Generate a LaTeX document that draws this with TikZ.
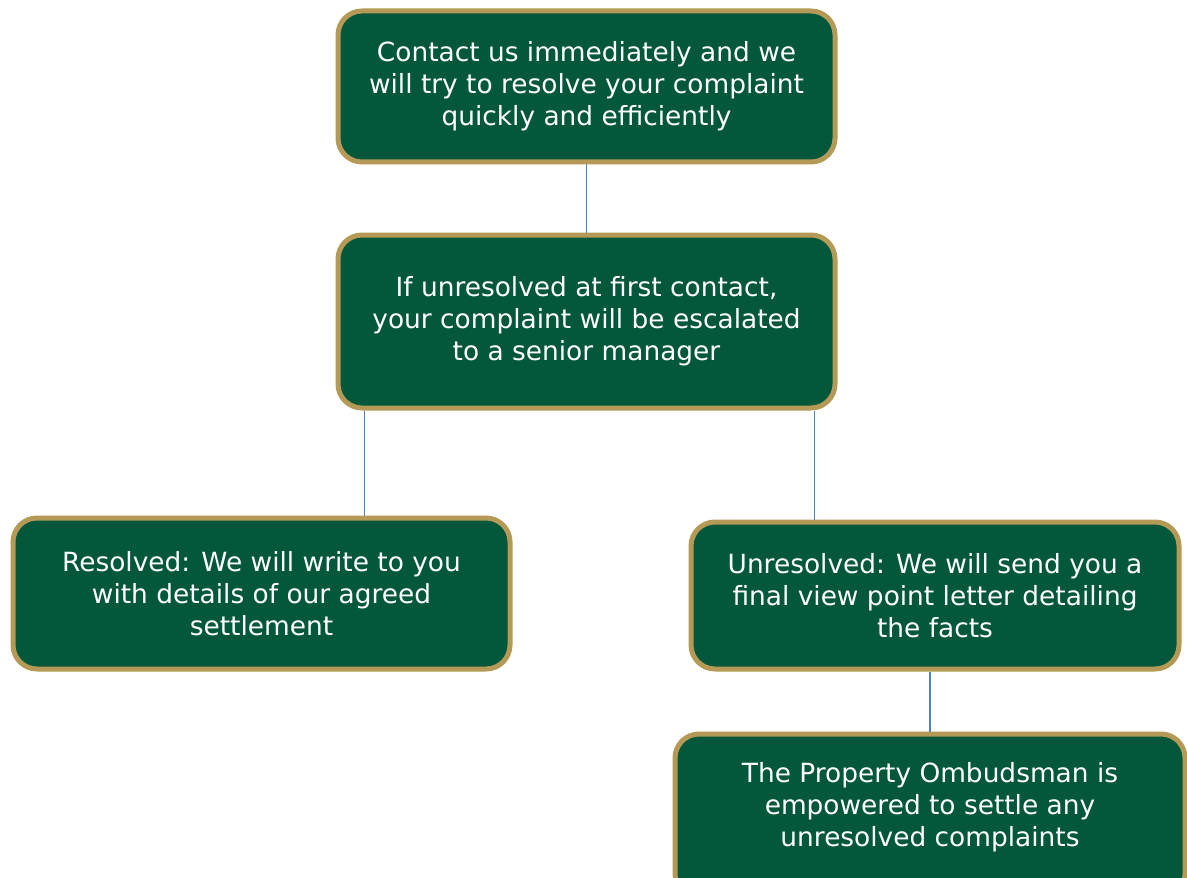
\documentclass[tikz,border=0pt]{standalone}
\usepackage{fontspec}
\setmainfont{DejaVu Sans}
\definecolor{boxgreen}{HTML}{03573A}
\definecolor{boxgold}{HTML}{B49A56}
\definecolor{linkblue}{HTML}{4F81BD}
\begin{document}
\begin{tikzpicture}[x=0.5pt, y=-0.5pt,
  stagebox/.style={draw=boxgold, line width=2.5pt, fill=boxgreen, rounded corners=12pt,
    text=white, align=center, font=\fontsize{13.2}{16}\selectfont, inner sep=0pt},
  link/.style={draw=linkblue, line width=0.9pt}]
\useasboundingbox (0,0) rectangle (1187,877);
\clip (0,0) rectangle (1187,877);

% Complaint stages
\node[stagebox, minimum width=248.5pt, minimum height=75.5pt] (contact) at (586.5,86.5)
  {Contact us immediately and we\\will try to resolve your complaint\\quickly and efficiently};
\node[stagebox, minimum width=248.5pt, minimum height=86.5pt] (escalate) at (586.5,321.5)
  {If unresolved at first contact,\\your complaint will be escalated\\to a senior manager};
\node[stagebox, minimum width=248.5pt, minimum height=75.5pt] (resolved) at (261.5,593.5)
  {Resolved: We will write to you\\with details of our agreed\\settlement};
\node[stagebox, minimum width=244pt, minimum height=73.5pt] (unresolved) at (935,595.5)
  {Unresolved: We will send you a\\final view point letter detailing\\the facts};
\node[stagebox, minimum width=255pt, minimum height=82pt] (ombudsman) at (930,816)
  {The Property Ombudsman is\\empowered to settle any\\unresolved complaints\\[-4pt]};

% Connectors
\draw[link] (contact) -- (escalate);
\coordinate (escL) at ([xshift=14.5pt]escalate.south west);
\coordinate (escR) at ([xshift=-11.5pt]escalate.south east);
\draw[link] (escL) -- (escL |- resolved.north);
\draw[link] (escR) -- (escR |- unresolved.north);
\draw[link] (ombudsman.north |- unresolved.south) -- (ombudsman.north);

\end{tikzpicture}
\end{document}
